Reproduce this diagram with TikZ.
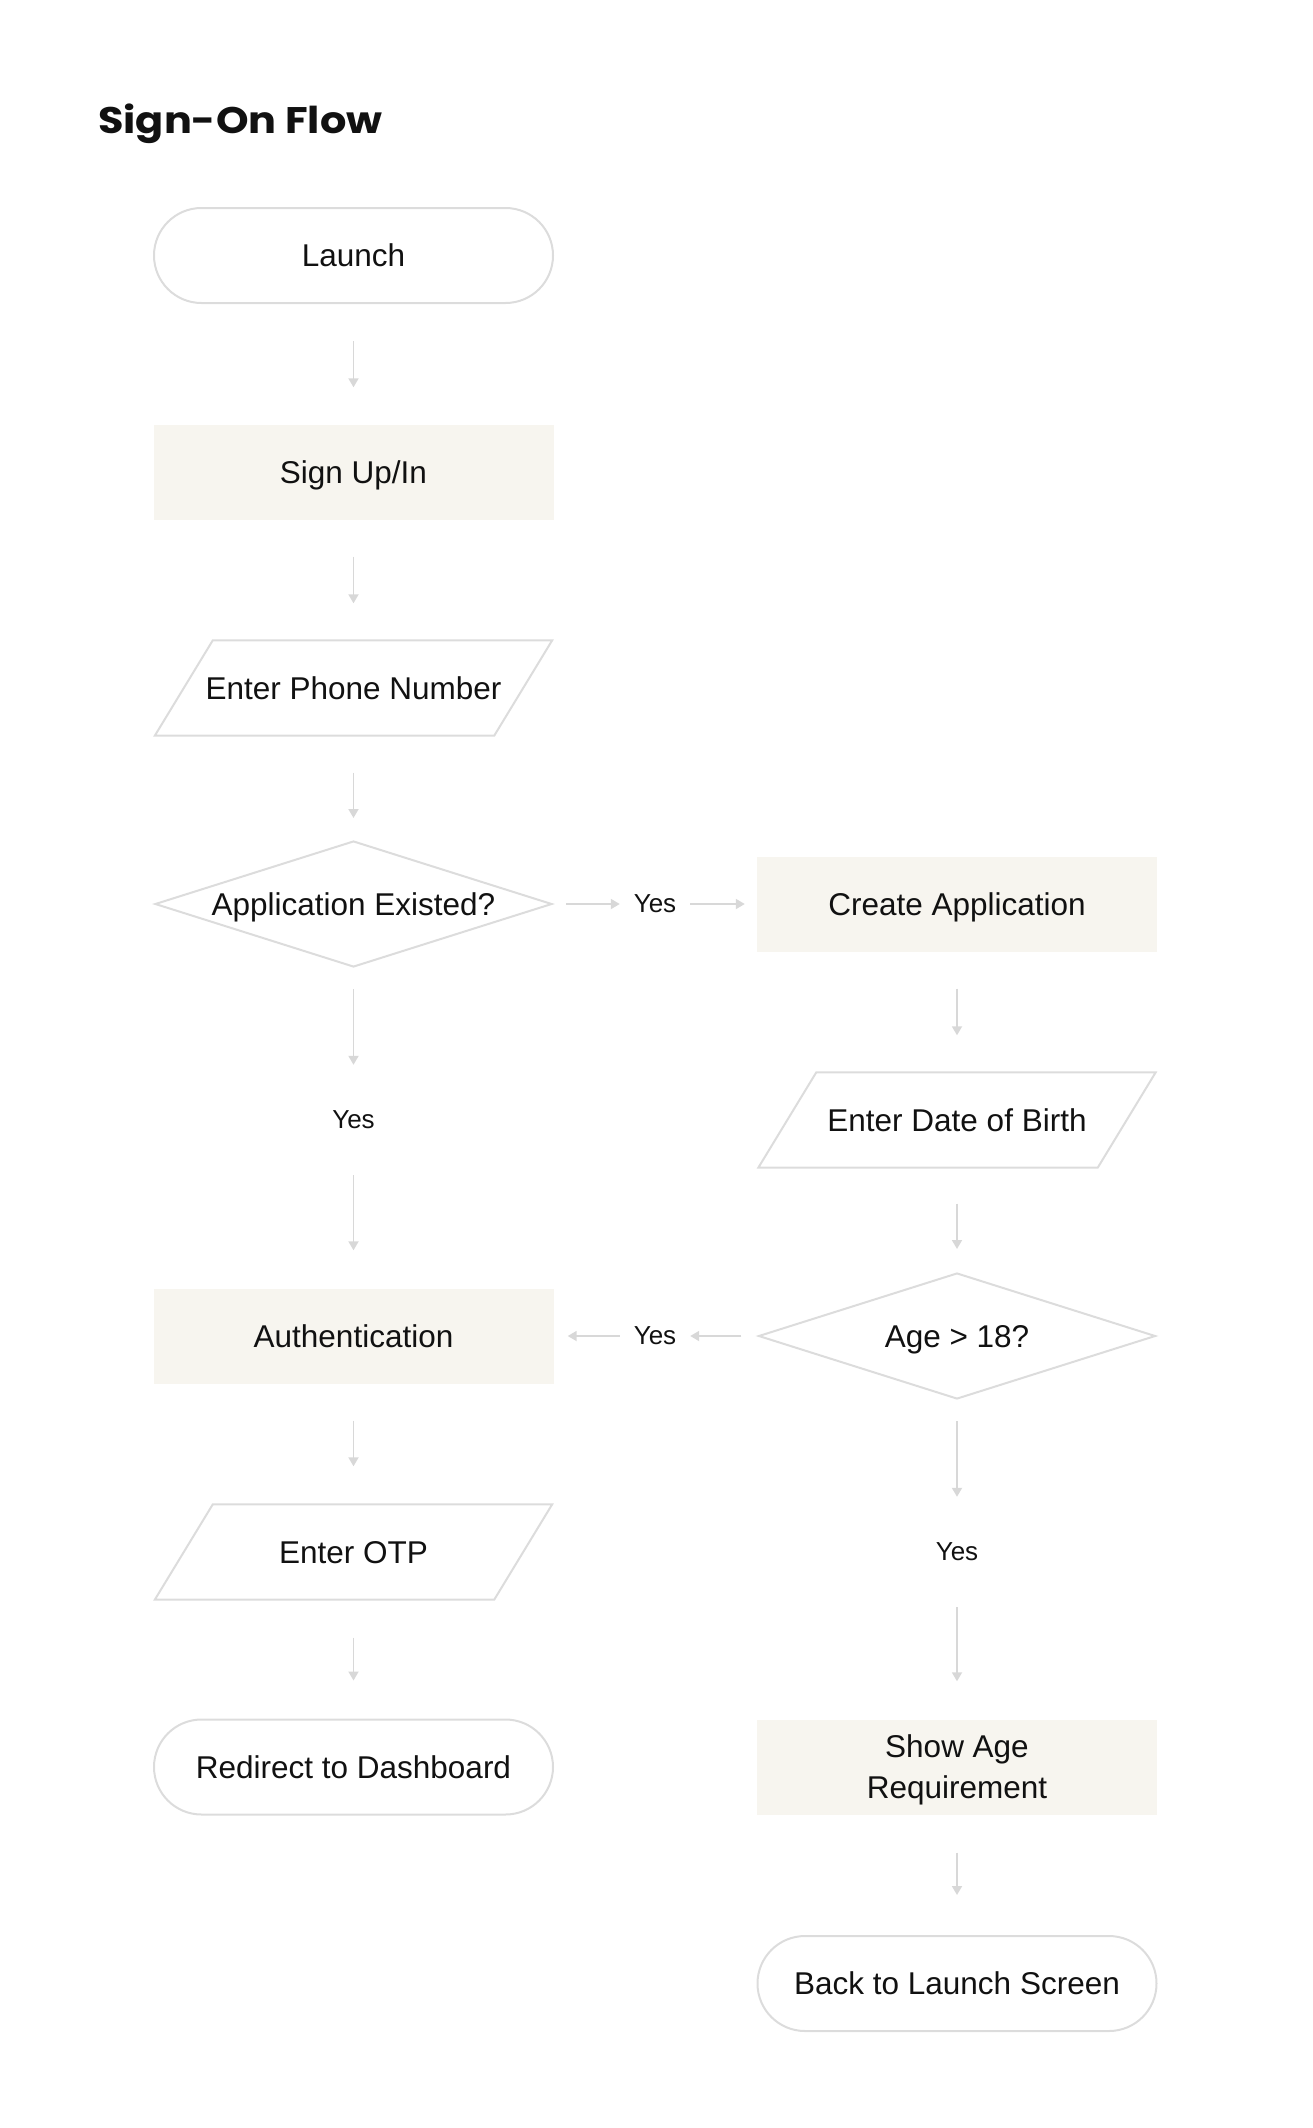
\documentclass[tikz,border=0pt]{standalone}
\usepackage{fontspec}
\setmainfont{Liberation Sans}
\newfontfamily\titlefont{Poppins}
\usetikzlibrary{shapes.geometric,arrows.meta}
\definecolor{beige}{HTML}{F7F5EF}
\definecolor{edgegray}{HTML}{DCDCDC}
\definecolor{arrowgray}{HTML}{D8D8D8}
\definecolor{ink}{HTML}{111111}
\tikzset{
  base/.style={font=\fontsize{31.5}{41}\selectfont, text=ink, inner sep=0pt, align=center, text height=22.5pt, text depth=0pt},
  terminal/.style={base, rectangle, rounded corners=47.5pt, draw=edgegray, line width=2pt, minimum width=399pt, minimum height=95pt},
  process/.style={base, rectangle, fill=beige, minimum width=400pt, minimum height=95pt},
  iobox/.style={base, rectangle, minimum width=397pt, minimum height=95pt},
  ioline/.style={draw=edgegray, line width=2pt, line join=miter},
  decision/.style={base, diamond, aspect=3.15, draw=edgegray, line width=2pt, minimum width=397pt, minimum height=126pt},
  yeslabel/.style={font=\fontsize{26}{30}\selectfont, text=ink, inner sep=0pt, minimum width=70pt, minimum height=110pt},
  flow/.style={draw=arrowgray, line width=1.8pt, -{Triangle[width=10pt,length=9pt]}},
}
\begin{document}
\begin{tikzpicture}[x=1pt,y=-1pt]
\useasboundingbox (0,0) rectangle (1312,2128);
\node[anchor=base west, inner sep=0pt, text=ink] (title) at (98,133) {\scalebox{1.12}[1]{\titlefont\bfseries\fontsize{37}{40}\selectfont Sign-On Flow}};

\node[terminal] (launch) at (353.5,255.5) {Launch};
\node[process] (signup) at (353.5,472) {Sign Up/In};
\node[iobox] (phone) at (353.5,688) {Enter Phone Number};
\node[decision] (exists) at (353.5,904) {Application Existed?};
\node[yeslabel] (yesA) at (353.5,1120) {Yes};
\node[process] (auth) at (353.5,1336) {Authentication};
\node[iobox] (otp) at (353.5,1552) {Enter OTP};
\node[terminal] (dash) at (353.5,1767) {Redirect to Dashboard};

\node[yeslabel] (yesB) at (655,904) {Yes};
\node[process] (create) at (957,904) {Create Application};
\node[iobox] (dob) at (957,1120) {Enter Date of Birth};
\node[decision] (age) at (957,1336) {Age > 18?};
\node[yeslabel] (yesC) at (655,1336) {Yes};
\node[yeslabel] (yesD) at (957,1552) {Yes};
\node[process, text height=] (show) at (957,1767) {Show Age\\Requirement};
\node[terminal] (back) at (957,1983.5) {Back to Launch Screen};

\foreach \n in {phone,otp,dob}{
  \draw[ioline] (\n.south west) -- ([xshift=58pt]\n.north west) -- (\n.north east) -- ([xshift=-58pt]\n.south east) -- cycle;
}

\draw[flow, shorten <=37pt, shorten >=37pt] (launch) -- (signup);
\draw[flow, shorten <=37pt, shorten >=37pt] (signup) -- (phone);
\draw[flow, shorten <=37pt, shorten >=22pt] (phone) -- (exists);
\draw[flow, shorten <=21pt] (exists) -- (yesA);
\draw[flow, shorten >=38pt] (yesA) -- (auth);
\draw[flow, shorten <=37pt, shorten >=38pt] (auth) -- (otp);
\draw[flow, shorten <=38pt, shorten >=38pt] (otp) -- (dash);

\draw[flow, shorten <=13pt] (exists) -- (yesB);
\draw[flow, shorten >=12pt] (yesB) -- (create);
\draw[flow, shorten <=37pt, shorten >=37pt] (create) -- (dob);
\draw[flow, shorten <=36pt, shorten >=23pt] (dob) -- (age);
\draw[flow, shorten <=16pt] (age) -- (yesC);
\draw[flow, shorten >=14pt] (yesC) -- (auth);
\draw[flow, shorten <=21pt] (age) -- (yesD);
\draw[flow, shorten >=38pt] (yesD) -- (show);
\draw[flow, shorten <=38pt, shorten >=40pt] (show) -- (back);
\end{tikzpicture}
\end{document}
